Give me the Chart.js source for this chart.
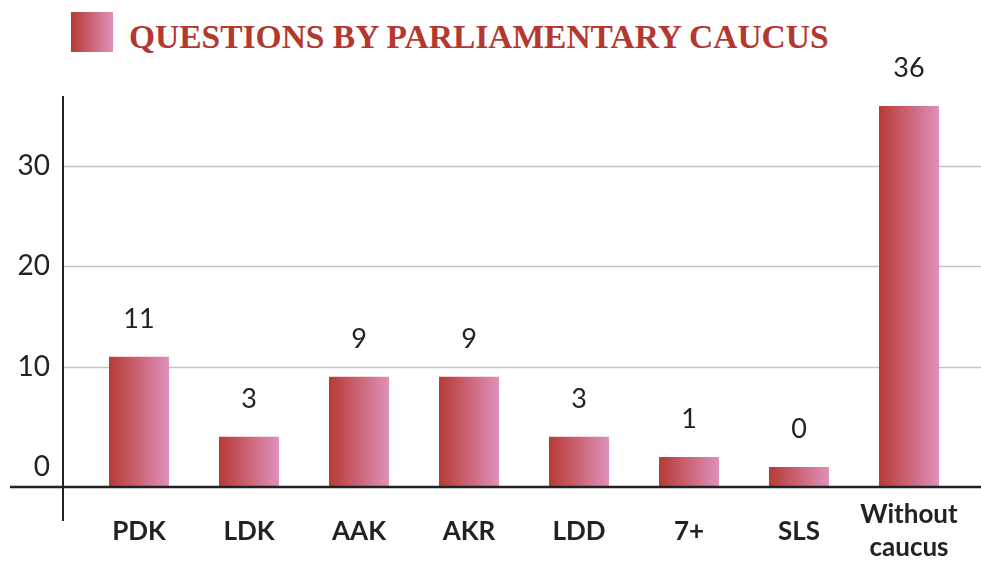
<!DOCTYPE html>
<html>
<head>
<meta charset="utf-8">
<script src="https://cdn.jsdelivr.net/npm/chart.js@4/dist/chart.umd.min.js"></script>
<style>
  html, body { margin: 0; padding: 0; background: #fff; }
  #wrap { position: relative; width: 981px; height: 562px; }
  #title { position: absolute; left: 71px; top: 12px; height: 40px; display: flex; align-items: center; }
  #title .box { width: 42px; height: 40px; background: linear-gradient(to right, #b73a33, #df90bb); }
  #title span { margin-left: 16px; margin-top: 10px; font: bold 33.5px "Liberation Serif", serif; color: #b3382f; white-space: nowrap; }
  #chart-box { position: absolute; left: 0; top: 0; width: 981px; height: 562px; }
</style>
</head>
<body>
<div id="wrap">
  <div id="title"><div class="box"></div><span>QUESTIONS BY PARLIAMENTARY CAUCUS</span></div>
  <div id="chart-box"><canvas id="caucusChart"></canvas></div>
</div>
<script>
// data
const categories = ['PDK', 'LDK', 'AAK', 'AKR', 'LDD', '7+', 'SLS', ['Without', 'caucus']];
const questions = [11, 3, 9, 9, 3, 1, 0, 36];
const yTicks = [0, 10, 20, 30];

const axisBase = -2;
const barPct = 0.545;

// horizontal gradient for each bar, from the x scale position
function barGradient(c) {
  const chart = c.chart;
  const x = chart.scales.x;
  if (!x || !chart.chartArea) return '#c0505a';
  const cx = x.getPixelForValue(c.dataIndex);
  const half = (x.width / categories.length) * barPct / 2;
  const g = chart.ctx.createLinearGradient(cx - half, 0, cx + half, 0);
  g.addColorStop(0, '#b73a33');
  g.addColorStop(1, '#df90bb');
  return g;
}

// grid lines, axis lines and value labels
const barStyle = {
  id: 'barStyle',
  beforeDatasetsDraw(chart) {
    const { ctx, scales: { y } } = chart;
    ctx.save();
    ctx.strokeStyle = '#c4c4c4';
    ctx.lineWidth = 1.5;
    yTicks.filter(v => v > 0).forEach(v => {
      const py = Math.round(y.getPixelForValue(v)) + 0.5;
      ctx.beginPath();
      ctx.moveTo(63, py);
      ctx.lineTo(981, py);
      ctx.stroke();
    });
    ctx.restore();
  },
  afterDatasetsDraw(chart) {
    const { ctx, scales: { y } } = chart;
    const base = y.getPixelForValue(axisBase);
    ctx.save();
    ctx.strokeStyle = '#222';
    ctx.lineWidth = 2.5;
    ctx.beginPath();
    ctx.moveTo(10, base);
    ctx.lineTo(981, base);
    ctx.stroke();
    ctx.lineWidth = 2;
    ctx.beginPath();
    ctx.moveTo(63, y.getPixelForValue(37));
    ctx.lineTo(63, 521);
    ctx.stroke();

    ctx.fillStyle = '#222';
    ctx.font = '27px Lato, sans-serif';
    ctx.textAlign = 'center';
    ctx.textBaseline = 'bottom';
    chart.getDatasetMeta(0).data.forEach((bar, i) => {
      ctx.fillText(questions[i], bar.x, bar.y - 24);
    });
    ctx.restore();
  }
};

new Chart(document.getElementById('caucusChart'), {
  type: 'bar',
  data: {
    labels: categories,
    datasets: [{
      data: questions,
      base: axisBase,
      backgroundColor: barGradient,
      barPercentage: barPct,
      categoryPercentage: 1
    }]
  },
  options: {
    responsive: true,
    maintainAspectRatio: false,
    animation: false,
    layout: { padding: { top: 96, right: 17, left: 0, bottom: 0 } },
    plugins: { legend: { display: false }, tooltip: { enabled: false } },
    scales: {
      x: {
        grid: { display: false },
        border: { display: false },
        afterFit: s => { s.height = 75; },
        ticks: {
          color: '#222',
          padding: 20,
          crossAlign: 'center',
          font: { family: 'Lato', weight: 'bold', size: 26, lineHeight: 1.25 }
        }
      },
      y: {
        min: axisBase,
        max: 37,
        grid: { display: false },
        border: { display: false },
        afterFit: s => { s.width = 84; },
        afterBuildTicks: s => { s.ticks = yTicks.map(v => ({ value: v })); },
        ticks: {
          color: '#222',
          padding: 26,
          font: { family: 'Lato', size: 28 }
        }
      }
    }
  },
  plugins: [barStyle]
});
</script>
</body>
</html>
